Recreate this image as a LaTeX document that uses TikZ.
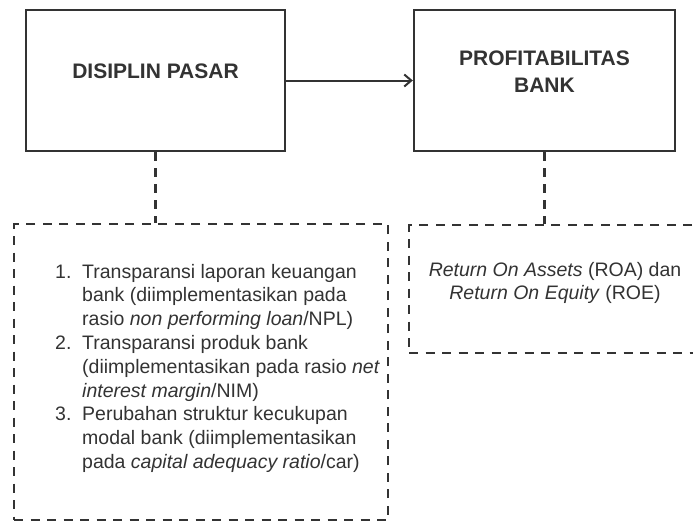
\documentclass[tikz,border=0pt]{standalone}
\usepackage{fontspec}
\setmainfont{Liberation Sans}
\usetikzlibrary{arrows.meta}
\definecolor{ink}{HTML}{333333}
\begin{document}
\begin{tikzpicture}[x=1pt,y=-1pt,
  solidbox/.style={draw=ink, line width=2.4pt, minimum height=141pt, inner sep=0pt},
  dashbox/.style={draw=ink, line width=2.2pt, dash pattern=on 9pt off 7.5pt, inner sep=0pt},
  title/.style={font=\fontsize{21}{27}\selectfont\bfseries, text=ink, align=center, inner sep=0pt},
  body/.style={font=\fontsize{19.5}{23.8}\selectfont, text=ink, inner sep=0pt},
  link/.style={draw=ink, line width=2.2pt, dash pattern=on 9pt off 7pt},
  arrowlink/.style={draw=ink, line width=2pt, -{Straight Barb[length=7pt,width=12pt]}}]
\useasboundingbox (0,0) rectangle (693,522);
\fill[white] (0,0) rectangle (693,522);
% solid boxes
\node[solidbox, minimum width=259pt] (a) at (155.5,80.5) {};
\node[solidbox, minimum width=261pt] (b) at (544.5,80.5) {};
\node[title] (ta) at (155.5,71) {DISIPLIN PASAR};
\node[title] (tb) at (544.5,71.5) {PROFITABILITAS\\BANK};
% dashed boxes
\node[dashbox, minimum width=374pt, minimum height=296pt] (d1) at (201,372) {};
\begin{scope}
\clip (0,0) rectangle (693,522);
\node[dashbox, minimum width=292pt, minimum height=128pt] (d2) at (555,289) {};
\end{scope}
% texts
\node[body, anchor=base west] (t1) at (55,278) {\begin{tabular}[t]{@{}l@{}l@{}}
\makebox[27pt][l]{1.} & Transparansi laporan keuangan\\
 & bank (diimplementasikan pada\\
 & rasio \textit{non performing loan}/NPL)\\
\makebox[27pt][l]{2.} & Transparansi produk bank\\
 & (diimplementasikan pada rasio \textit{net}\\
 & \textit{interest margin}/NIM)\\
\makebox[27pt][l]{3.} & Perubahan struktur kecukupan\\
 & modal bank (diimplementasikan\\
 & pada \textit{capital adequacy ratio}/car)
\end{tabular}};
\node[body, anchor=base] (t2) at (555,276) {\begin{tabular}[t]{@{}c@{}}
\textit{Return On Assets} (ROA) dan\\
\textit{Return On Equity} (ROE)
\end{tabular}};
% connectors
\draw[arrowlink] (a.east) -- (b.west);
\draw[link] (a.south) -- (a.south |- d1.north);
\draw[link] (b.south) -- (b.south |- d2.north);
\end{tikzpicture}
\end{document}
